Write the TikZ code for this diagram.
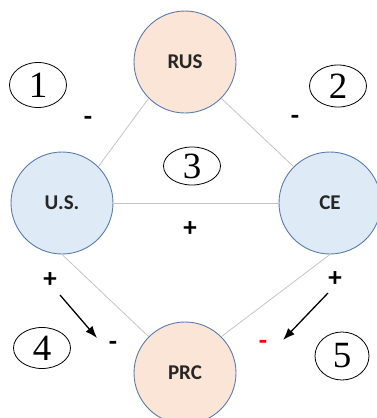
\documentclass[tikz,border=0pt]{standalone}
\usepackage{fontspec}
\setmainfont{Carlito}
\newfontfamily\numfont{Liberation Serif}
\usepackage{xcolor}
\usetikzlibrary{shapes.geometric,arrows.meta}

\definecolor{rimblue}{HTML}{5A7BB0}
\definecolor{peach}{HTML}{FBE5D6}
\definecolor{paleblue}{HTML}{DEEBF7}
\definecolor{tiegray}{HTML}{C4C4C4}
\definecolor{inkgray}{HTML}{262626}

\begin{document}
\begin{tikzpicture}[x=1pt,y=-1pt,
    actor/.style={circle, draw=rimblue, line width=0.9pt, minimum size=102pt, inner sep=0pt,
        text=inkgray, font=\bfseries\fontsize{21}{21}\selectfont},
    tie/.style={draw=tiegray, line width=0.8pt},
    tag/.style={ellipse, draw, line width=0.8pt, inner sep=0pt, font=\numfont\fontsize{37}{37}\selectfont},
    sign/.style={inner sep=0pt, font=\bfseries\fontsize{27}{27}\selectfont},
    push/.style={-{Latex[length=12pt,width=9pt]}, line width=1.3pt},
]
    \useasboundingbox (0,0) rectangle (377,418);

    % 四个国家
    \node[actor, fill=peach] (rus) at (185,62) {RUS};
    \node[actor, fill=paleblue] (us) at (62,203) {U.S.};
    \node[actor, fill=paleblue] (ce) at (330,203) {CE};
    \node[actor, fill=peach] (prc) at (185,373) {PRC};

    % 关系连线
    \draw[tie] (rus.south west) -- (us.north east);
    \draw[tie] (rus.south east) -- (ce.north west);
    \draw[tie] (us.east) -- (ce.west);
    \draw[tie] (us.south) -- (prc.north west);
    \draw[tie] (ce.south) -- (prc.north east);

    % 编号
    \node[tag, minimum width=57pt, minimum height=45pt] (n1) at (38,85) {1};
    \node[tag, minimum width=57pt, minimum height=42pt] (n2) at (338,86) {2};
    \node[tag, minimum width=57pt, minimum height=38pt] (n3) at (192,166) {3};
    \node[tag, minimum width=57pt, minimum height=41pt] (n4) at (42,348) {4};
    \node[tag, minimum width=54pt, minimum height=48pt] (n5) at (342,356) {5};

    % 符号
    \node[sign] (s1) at (88,121) {-};
    \node[sign] (s2) at (295,120) {-};
    \node[sign] (s3) at (190,229) {+};
    \node[sign] (s4) at (50,280) {+};
    \node[sign] (s5) at (335,279) {+};
    \node[sign] (s6) at (113,346) {-};
    \node[sign, text=red] (s7) at (263,345) {-};

    % 箭头
    \coordinate (a4s) at (60,295);
    \coordinate (a4e) at (97,338);
    \coordinate (a5s) at (328,293);
    \coordinate (a5e) at (283,340);
    \draw[push] (a4s) -- (a4e);
    \draw[push] (a5s) -- (a5e);

\end{tikzpicture}
\end{document}
